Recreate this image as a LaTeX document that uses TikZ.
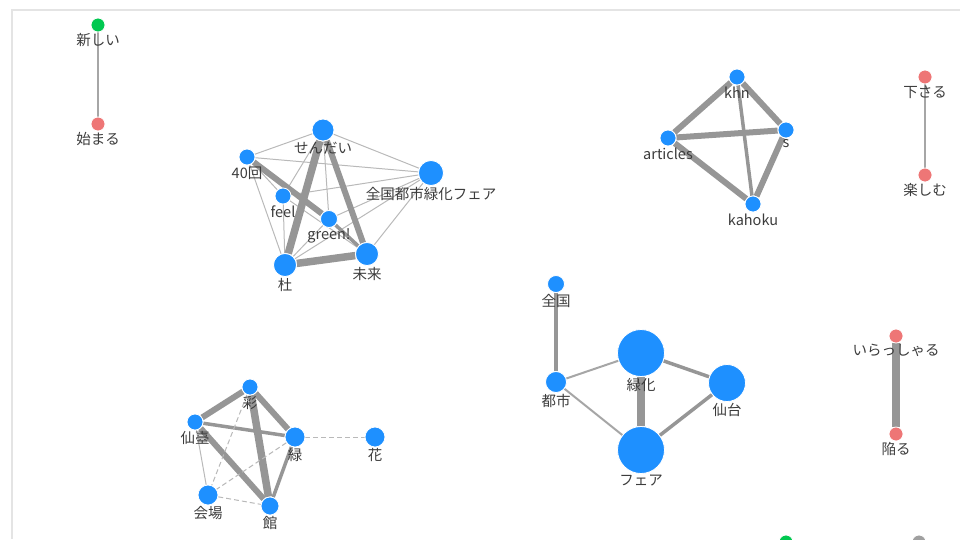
\documentclass[tikz,border=0pt]{standalone}
\usepackage{fontspec}
\setmainfont{Noto Sans CJK JP}
\usetikzlibrary{backgrounds}
\definecolor{nblue}{RGB}{30,144,255}
\definecolor{nred}{RGB}{238,118,118}
\definecolor{ngreen}{RGB}{0,200,80}
\definecolor{ngray}{RGB}{160,160,160}
\definecolor{egray}{RGB}{150,150,150}
\definecolor{lgray}{RGB}{185,185,185}
\definecolor{txt}{RGB}{60,60,60}
\definecolor{frame}{RGB}{228,228,228}
\tikzset{
  nd/.style={circle, inner sep=0pt, draw=white, line width=0.8pt},
  bn/.style={nd, fill=nblue},
  rn/.style={nd, fill=nred, minimum size=14pt},
  gn/.style={nd, fill=ngreen, minimum size=14pt},
  lbl/.style={inner sep=0pt, text=txt, font=\fontsize{14.5}{16}\selectfont, label distance=1pt},
  ea/.style={draw=lgray, line width=1pt},
  eb/.style={draw=egray!85, line width=2pt},
  ec/.style={draw=egray, line width=3.5pt},
  ed/.style={draw=egray, line width=6pt},
  ee/.style={draw=egray, line width=7.5pt},
  edsh/.style={draw=lgray, line width=1pt, dash pattern=on 5pt off 3pt},
}
\begin{document}
\begin{tikzpicture}[x=1pt,y=-1pt]
\useasboundingbox (0,0) rectangle (960,539);
\draw[frame, line width=1.5pt] (12,539) -- (12,10) -- (960,10);

% top-left pair
\node[gn, label={[lbl]below:新しい}] (atarashii) at (98,25) {};
\node[rn, label={[lbl]below:始まる}] (hajimaru) at (98,124) {};

% cluster 1
\node[bn, minimum size=22pt, label={[lbl]below:せんだい}] (sendai) at (323,130) {};
\node[bn, minimum size=16pt, label={[lbl]below:40回}] (k40) at (247,157) {};
\node[bn, minimum size=25pt, label={[lbl]below:全国都市緑化フェア}] (zfair) at (431,173) {};
\node[bn, minimum size=16pt, label={[lbl]below:feel}] (feel) at (283,196) {};
\node[bn, minimum size=17pt, label={[lbl]below:green!}] (green) at (329,219) {};
\node[bn, minimum size=23pt, label={[lbl]below:杜}] (mori) at (285,265) {};
\node[bn, minimum size=23pt, label={[lbl]below:未来}] (mirai) at (367,254) {};

% cluster 2
\node[bn, minimum size=16pt, label={[lbl]below:khn}] (khn) at (737,77) {};
\node[bn, minimum size=16pt, label={[lbl]below:s}] (s) at (786,130) {};
\node[bn, minimum size=16pt, label={[lbl]below:articles}] (articles) at (668,138) {};
\node[bn, minimum size=16pt, label={[lbl]below:kahoku}] (kahoku) at (753,204) {};

% top-right pair
\node[rn, label={[lbl]below:下さる}] (kudasaru) at (925,77) {};
\node[rn, label={[lbl]below:楽しむ}] (tanoshimu) at (925,175) {};

% cluster 3
\node[bn, minimum size=16pt, label={[lbl]below:彩}] (sai) at (250,387) {};
\node[bn, minimum size=16pt, label={[lbl]below:仙臺}] (sendai2) at (195,422) {};
\node[bn, minimum size=20pt, label={[lbl]below:緑}] (midori) at (295,437) {};
\node[bn, minimum size=20pt, label={[lbl]below:花}] (hana) at (375,437) {};
\node[bn, minimum size=20pt, label={[lbl]below:会場}] (kaijo) at (208,495) {};
\node[bn, minimum size=18pt, label={[lbl]below:館}] (kan) at (270,506) {};

% cluster 4
\node[bn, minimum size=17pt, label={[lbl]below:全国}] (zenkoku) at (556,284) {};
\node[bn, minimum size=21pt, label={[lbl]below:都市}] (toshi) at (556,382) {};
\node[bn, minimum size=47pt, label={[lbl]below:緑化}] (ryokka) at (641,353) {};
\node[bn, minimum size=37pt, label={[lbl]below:仙台}] (sendai3) at (727,383) {};
\node[bn, minimum size=47pt, label={[lbl]below:フェア}] (fair) at (641,450) {};

% right pair
\node[rn, label={[lbl]below:いらっしゃる}] (irassharu) at (896,336) {};
\node[rn, label={[lbl]below:陥る}] (ochiiru) at (896,434) {};

% bottom partial pair
\node[gn] (bg) at (786,542) {};
\node[nd, fill=ngray, minimum size=14pt] (bgr) at (919,542) {};

\begin{pgfonlayer}{background}
\draw[eb] (atarashii) -- (hajimaru);
\draw[eb] (kudasaru) -- (tanoshimu);
\draw[ee] (irassharu) -- (ochiiru);
\draw[ea] (bg) -- (bgr);

% cluster 1
\draw[ea] (sendai) -- (k40);
\draw[ea] (sendai) -- (zfair);
\draw[ea] (sendai) -- (feel);
\draw[ea] (sendai) -- (green);
\draw[ea] (k40) -- (zfair);
\draw[ea] (k40) -- (mori);
\draw[ea] (k40) -- (feel);
\draw[ea] (feel) -- (zfair);
\draw[ea] (feel) -- (mori);
\draw[ea] (feel) -- (mirai);
\draw[ea] (green) -- (zfair);
\draw[ea] (green) -- (mori);
\draw[ea] (zfair) -- (mori);
\draw[ea] (zfair) -- (mirai);
\draw[ec] (green) -- (mirai);
\draw[ed] (k40) -- (green);
\draw[ee] (sendai) -- (mori);
\draw[ed] (sendai) -- (mirai);
\draw[ee] (mori) -- (mirai);

% cluster 2
\draw[ed] (khn) -- (articles);
\draw[ed] (khn) -- (s);
\draw[ec] (khn) -- (kahoku);
\draw[ed] (articles) -- (s);
\draw[ed] (articles) -- (kahoku);
\draw[ed] (s) -- (kahoku);

% cluster 3
\draw[ed] (sendai2) -- (sai);
\draw[ed] (sai) -- (midori);
\draw[ee] (sai) -- (kan);
\draw[ec] (sendai2) -- (midori);
\draw[ed] (sendai2) -- (kan);
\draw[ec] (midori) -- (kan);
\draw[ea] (sendai2) -- (kaijo);
\draw[edsh] (sai) -- (kaijo);
\draw[edsh] (midori) -- (kaijo);
\draw[edsh] (kaijo) -- (kan);
\draw[edsh] (midori) -- (hana);

% cluster 4
\draw[ec] (zenkoku) -- (toshi);
\draw[eb] (toshi) -- (ryokka);
\draw[eb] (toshi) -- (fair);
\draw[ee] (ryokka) -- (fair);
\draw[ec] (ryokka) -- (sendai3);
\draw[ec] (sendai3) -- (fair);
\end{pgfonlayer}
\end{tikzpicture}
\end{document}
